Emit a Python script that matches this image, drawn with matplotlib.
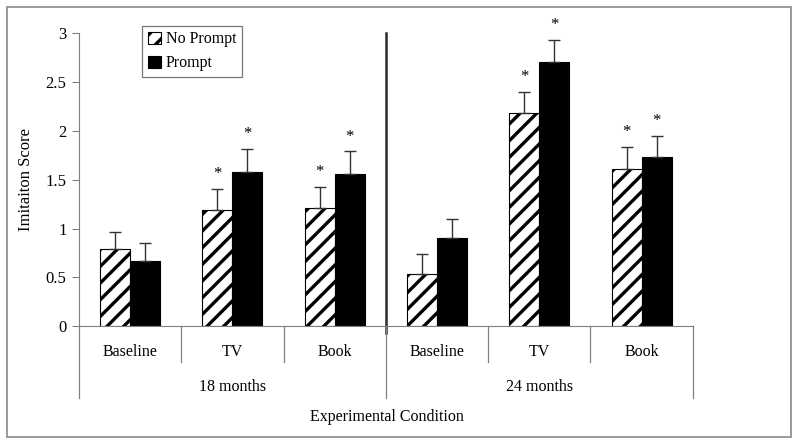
import matplotlib
matplotlib.use("Agg")
import matplotlib.pyplot as plt
import matplotlib.patches as patches
import matplotlib.transforms as mtransforms
import numpy as np

plt.rcParams['font.family'] = ['Liberation Serif', 'DejaVu Serif']
plt.rcParams['hatch.linewidth'] = 2.4

# data
conditions = ["Baseline", "TV", "Book", "Baseline", "TV", "Book"]
age_groups = ["18 months", "24 months"]
no_prompt = [0.79, 1.19, 1.21, 0.54, 2.18, 1.61]
no_prompt_err = [0.18, 0.22, 0.22, 0.20, 0.22, 0.23]
prompt = [0.67, 1.58, 1.56, 0.90, 2.71, 1.73]
prompt_err = [0.18, 0.24, 0.23, 0.20, 0.22, 0.22]
no_prompt_star = [False, True, True, False, True, True]
prompt_star = [False, True, True, False, True, True]

fig = plt.figure(figsize=(8, 4.46), dpi=100)
ax = fig.add_axes([0.09875, 0.2684, 0.7672, 0.6569])

x = np.arange(len(conditions)) + 0.5
w = 0.293
ekw = dict(ecolor='#333333', elinewidth=1, capsize=4, capthick=1)

ax.bar(x - w / 2, no_prompt, w, color='white', edgecolor='black', hatch='//',
       linewidth=0.8, label='No Prompt',
       yerr=[np.zeros(6), no_prompt_err], error_kw=ekw)
ax.bar(x + w / 2, prompt, w, color='black', edgecolor='black', linewidth=0.8,
       label='Prompt', yerr=[np.zeros(6), prompt_err], error_kw=ekw)

# significance stars
for i in range(len(conditions)):
    if no_prompt_star[i]:
        ax.annotate('*', (x[i] - w / 2, no_prompt[i] + no_prompt_err[i]),
                    xytext=(0, 5), textcoords='offset points', ha='center',
                    va='bottom', fontsize=12, annotation_clip=False)
    if prompt_star[i]:
        ax.annotate('*', (x[i] + w / 2, prompt[i] + prompt_err[i]),
                    xytext=(0, 5), textcoords='offset points', ha='center',
                    va='bottom', fontsize=12, annotation_clip=False)

ax.set_xlim(0, 6)
ax.set_ylim(0, 3)
ax.set_yticks([0, 0.5, 1, 1.5, 2, 2.5, 3])
ax.set_yticklabels(['0', '0.5', '1', '1.5', '2', '2.5', '3'], fontsize=12)
ax.set_xticks([])
ax.tick_params(axis='y', length=5, color='#808080', pad=4)
for s in ['top', 'right']:
    ax.spines[s].set_visible(False)
ax.spines['left'].set_color('#808080')
ax.spines['bottom'].set_color('#808080')
ax.set_ylabel('Imitaiton Score', fontsize=12, labelpad=8)

# divider between age groups
ax.plot([3, 3], [-0.024, 1.0], color='#2a2a2a', lw=1.8,
        transform=ax.get_xaxis_transform(), clip_on=False)

# multi-level category axis
tr = mtransforms.blended_transform_factory(ax.transData, fig.transFigure)
def fy(px):
    return (446 - px) / 446.0

for b in range(7):
    bottom = 397.7 if b % 3 == 0 else 362
    ax.plot([b, b], [fy(326.3), fy(bottom)], color='#808080', lw=0.9,
            transform=tr, clip_on=False)
for i, c in enumerate(conditions):
    ax.text(x[i], fy(352), c, transform=tr, ha='center', va='center', fontsize=11.5)
for g, name in enumerate(age_groups):
    ax.text(1.5 + 3 * g, fy(387), name, transform=tr, ha='center', va='center',
            fontsize=11.5)
fig.text((386.5) / 800, fy(417), 'Experimental Condition', ha='center',
         va='center', fontsize=11.5)

leg = ax.legend(loc='upper left', bbox_to_anchor=(0.178, 0.942),
                bbox_transform=fig.transFigure, borderaxespad=0, fancybox=False,
                fontsize=11.5, handlelength=0.8, handleheight=0.8,
                handletextpad=0.3, borderpad=0.35, labelspacing=0.5)
leg.get_frame().set_edgecolor('#555555')
leg.get_frame().set_linewidth(0.9)

# outer frame
fig.patches.append(patches.Rectangle((0.0091, 0.0209), 0.98, 0.9627,
                                     transform=fig.transFigure, fill=False,
                                     edgecolor='#9a9a9a', linewidth=1.4))

fig.savefig('out.png', dpi=100)
